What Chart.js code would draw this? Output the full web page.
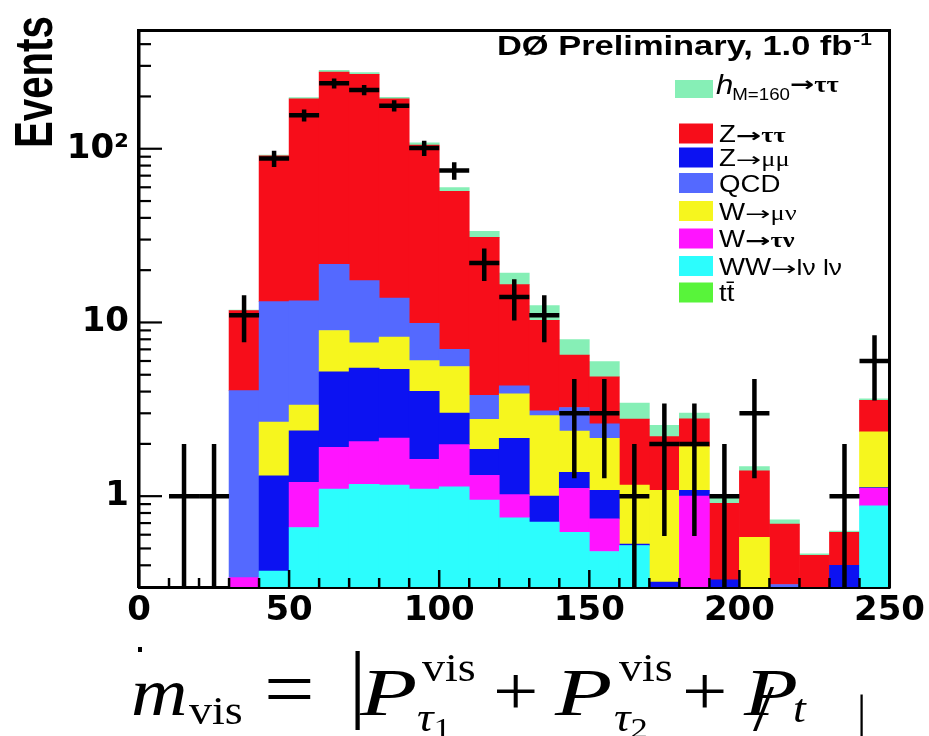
<!DOCTYPE html>
<html>
<head>
<meta charset="utf-8">
<script src="https://cdn.jsdelivr.net/npm/chart.js@4.4.1/dist/chart.umd.min.js"></script>
<style>html,body{margin:0;padding:0;background:#fff;}canvas{display:block;}</style>
</head>
<body>
<canvas id="c" width="929" height="736"></canvas>
<script>
// ---- data (bins of 10 in m_vis, 0..250) ----
const binCenters = [5,15,25,35,45,55,65,75,85,95,105,115,125,135,145,155,165,175,185,195,205,215,225,235,245];
const wwLnuLnu = [0,0,0,0,0.37,0.66,1.10,1.17,1.16,1.10,1.13,0.95,0.75,0.71,0.62,0.48,0.52,0,0,0,0,0,0,0,0.88];
const wTauNu   = [0,0,0,0.34,0,0.54,0.81,0.89,1.00,0.53,0.85,0.37,0.27,0,0.49,0.26,0,0,1.00,0,0,0,0,0,0.23];
const zMuMu    = [0,0,0,0,0.94,1.18,3.28,3.40,3.21,2.38,1.03,0.54,1.13,0.29,0.26,0.34,0.01,0.32,0.08,0.33,0,0,0,0.40,0.01];
const wMuNu    = [0,0,0,0,1.36,0.96,3.80,2.17,2.87,2.02,2.57,0.91,1.73,1.91,1.00,1.07,0.63,0.76,0.85,0,0.58,0,0,0,1.23];
const qcd      = [0,0,0,3.71,10.5,9.96,12.6,9.77,5.56,3.87,1.42,1.04,0.44,0.19,0.87,0.46,0,0,0,0,0,0.31,0,0,0];
const zTauTau  = [0,0,0,7.65,77.8,180.7,254.4,250.6,180.2,95.1,49.8,27.1,12.2,7.2,3.24,2.25,1.62,1.12,0.86,0.58,0.82,0.38,0.456,0.22,1.21];
const higgsM160= [0,0,0,0.1,1,3,7,6,4,3,3,2.6,2.7,2.2,1.48,1.10,0.66,0.36,0.22,0.09,0.08,0.04,0.01,0.01,0.07];
const ttbar    = [0,0,0,0,0,0,0,0,0,0,0,0,0,0,0,0,0,0,0,0,0,0,0,0,0];
const dataCounts = [0,1,1,11,88,156,238,218,177,101,75,22,14,11,3,3,1,2,2,1,3,0,0,1,6];
const dataErrors = [0,1,1,3.32,9.38,12.49,15.43,14.76,13.30,10.05,8.66,4.69,3.74,3.32,1.73,1.73,1,1.41,1.41,1,1.73,0,0,1,2.45];

const xTickValues = [0,50,100,150,200,250];
const xTickLabels = ['0','50','100','150','200','250'];
const xMinorTicks = [10,20,30,40,60,70,80,90,110,120,130,140,160,170,180,190,210,220,230,240];
const yTickValues = [1,10,100];
const yTickLabels = ['1','10','10\u00B2'];
const yMinorTicks = [0.4,0.5,0.6,0.7,0.8,0.9,2,3,4,5,6,7,8,9,20,30,40,50,60,70,80,90,200,300,400];

const colWW='#2cfdfd', colWtau='#ff14ff', colZmu='#0c12f2', colWmu='#f6f61e', colQCD='#5469ff', colZtau='#f70d1a', colH='#86efb6', colTT='#58f43a';

const toXY = arr => arr.map((v,i) => ({x: binCenters[i], y: v > 0 ? v : null}));
const barDs = (label, arr, color) => ({type:'bar', label, data: toXY(arr), backgroundColor: color, borderWidth: 0, stack: 'mc', barPercentage: 1, categoryPercentage: 1, order: 0});

// ---- helpers ----
function txt(ctx, s, x, y, font, sx, align) {
  ctx.save(); ctx.translate(x, y); ctx.scale(sx || 1, 1);
  ctx.font = font; ctx.textAlign = align || 'left'; ctx.textBaseline = 'alphabetic'; ctx.fillStyle = '#000';
  ctx.fillText(s, 0, 0);
  const w = ctx.measureText(s).width * (sx || 1);
  ctx.restore(); return w;
}

const innerTicks = {
  id: 'innerTicks',
  afterDatasetsDraw(chart) {
    const {ctx, chartArea: a, scales: {x, y}} = chart;
    ctx.save(); ctx.strokeStyle = '#000'; ctx.lineWidth = 2.2;
    const seg = (x1, y1, x2, y2) => { ctx.beginPath(); ctx.moveTo(x1, y1); ctx.lineTo(x2, y2); ctx.stroke(); };
    yTickValues.forEach(v => { const p = y.getPixelForValue(v); seg(a.left, p, a.left + 23, p); });
    yMinorTicks.forEach(v => { const p = y.getPixelForValue(v); seg(a.left, p, a.left + 12, p); });
    ctx.lineWidth = 2.5;
    xTickValues.forEach(v => { const p = x.getPixelForValue(v); seg(p, a.bottom, p, a.bottom - 17); });
    xMinorTicks.forEach(v => { const p = x.getPixelForValue(v); seg(p, a.bottom, p, a.bottom - 9); });
    ctx.restore();
  }
};

const errorBars = {
  id: 'errorBars',
  afterDatasetsDraw(chart) {
    const {ctx, chartArea: a, scales: {x, y}} = chart;
    ctx.save();
    ctx.beginPath(); ctx.rect(a.left, a.top, a.right - a.left, a.bottom - a.top); ctx.clip();
    ctx.strokeStyle = '#000'; ctx.lineWidth = 4.5;
    dataCounts.forEach((n, i) => {
      if (!(n > 0)) return;
      const px = x.getPixelForValue(binCenters[i]);
      const hi = y.getPixelForValue(n + dataErrors[i]);
      const lo = (n - dataErrors[i]) > 0.3 ? y.getPixelForValue(n - dataErrors[i]) : a.bottom + 5;
      ctx.beginPath(); ctx.moveTo(px, hi); ctx.lineTo(px, lo); ctx.stroke();
    });
    ctx.restore();
  }
};

const decorations = {
  id: 'decorations',
  afterDraw(chart) {
    const {ctx, chartArea: a} = chart;
    ctx.save();
    // frame top & right
    ctx.strokeStyle = '#000'; ctx.lineWidth = 3;
    ctx.beginPath(); ctx.moveTo(a.left - 1.5, a.top); ctx.lineTo(a.right, a.top); ctx.lineTo(a.right, a.bottom + 1.5); ctx.stroke();
    ctx.restore();

    // Y title
    ctx.save();
    ctx.translate(52, 148); ctx.rotate(-Math.PI / 2); ctx.scale(0.98, 1.3);
    ctx.font = 'bold 41px "Liberation Sans"'; ctx.fillStyle = '#000'; ctx.textBaseline = 'alphabetic';
    ctx.fillText('Events', 0, 0);
    ctx.restore();

    // title
    const tw = txt(ctx, 'D\u00D8 Preliminary, 1.0 fb', 497, 55, 'bold 28px "Liberation Sans"', 1.23);
    txt(ctx, '-1', 497 + tw + 1, 45, 'bold 17px "Liberation Sans"', 1.23);

    // legend
    const sans = '23px "Liberation Sans"';
    const sx = 1.2;
    ctx.fillStyle = colH; ctx.fillRect(675, 80, 38, 18);
    let xx = 716;
    xx += txt(ctx, 'h', xx, 94, 'italic 27px "Liberation Sans"', 1.15);
    xx += txt(ctx, 'M=160', xx - 1, 100, '17px "Liberation Sans"', 1.1);
    xx += txt(ctx, '\u2192', xx - 1, 91, 'bold 20px "DejaVu Sans"', 1.45);
    txt(ctx, '\u03C4\u03C4', xx - 1, 92, 'bold 23px "Liberation Serif"', 1.15);

    const arrowB = 'bold 19px "DejaVu Sans"', arrowN = '19px "DejaVu Sans"';
    const rows = [
      {c: colZtau, y: 133.5, parts: [['Z', sans, sx], ['\u2192', arrowB, 1.6], ['\u03C4\u03C4', 'bold 22px "Liberation Serif"', 1.2]]},
      {c: colZmu,  y: 157.5, parts: [['Z', sans, sx], ['\u2192', arrowN, 1.6], ['\u03BC\u03BC', '22px "Liberation Serif"', 1.2]]},
      {c: colQCD,  y: 183,   parts: [['QCD', sans, sx]]},
      {c: colWmu,  y: 211,   parts: [['W', sans, sx], ['\u2192', arrowN, 1.6], ['\u03BC\u03BD', '22px "Liberation Serif"', 1.2]]},
      {c: colWtau, y: 238.5, parts: [['W', sans, sx], ['\u2192', arrowB, 1.6], ['\u03C4\u03BD', 'bold 22px "Liberation Serif"', 1.2]]},
      {c: colWW,   y: 266,   parts: [['WW', sans, sx], ['\u2192', arrowN, 1.6], ['l\u03BD l\u03BD', '22px "Liberation Sans"', 1.2]]},
      {c: colTT,   y: 292.5, parts: [['tt\u0304', sans, sx]]}
    ];
    rows.forEach(r => {
      ctx.fillStyle = r.c; ctx.fillRect(679, r.y - 10, 34, 20);
      let x0 = 719;
      r.parts.forEach(p => { x0 += txt(ctx, p[0], x0, r.y + 8.5, p[1], p[2]); });
    });

    // formula
    const F = '"Liberation Serif"';
    const fs = 1.15;
    txt(ctx, 'm', 131, 715, 'italic 68px ' + F, fs);
    txt(ctx, 'vis', 189, 724, '40px ' + F, fs);
    txt(ctx, '=', 264, 715, '78px ' + F, fs);
    txt(ctx, '|', 349, 711, '86px ' + F, 1);
    txt(ctx, 'P', 360, 715, 'italic 68px ' + F, 1.38);
    txt(ctx, 'vis', 422, 681, '40px ' + F, fs);
    let tx = 417 + txt(ctx, '\u03C4', 417, 731, 'italic 40px ' + F, fs);
    txt(ctx, '1', tx, 738, '30px ' + F, fs);
    txt(ctx, '+', 493, 715, '70px ' + F, fs);
    txt(ctx, 'P', 555, 715, 'italic 68px ' + F, 1.38);
    txt(ctx, 'vis', 619, 681, '40px ' + F, fs);
    tx = 614 + txt(ctx, '\u03C4', 614, 731, 'italic 40px ' + F, fs);
    txt(ctx, '2', tx, 738, '30px ' + F, fs);
    txt(ctx, '+', 682, 715, '70px ' + F, fs);
    txt(ctx, 'P', 744, 715, 'italic 68px ' + F, 1.3);
    txt(ctx, '/', 753, 730, '66px ' + F, fs);
    txt(ctx, 't', 793, 722, 'italic 40px ' + F, fs);
    txt(ctx, '|', 857, 727, '46px ' + F, 1);

    // small mark under the axis
    ctx.fillStyle = '#000'; ctx.fillRect(138, 647, 4, 5);
  }
};

new Chart(document.getElementById('c'), {
  type: 'bar',
  data: {
    datasets: [
      {type: 'scatter', label: 'Data', data: toXY(dataCounts), order: -1, stack: 'data',
       pointStyle: 'line', pointBorderColor: '#000', pointBackgroundColor: '#000', pointBorderWidth: 4.5,
       pointRadius: c => { const s = c.chart.scales.x; return (s.getPixelForValue(10) - s.getPixelForValue(0)) / 2; },
       pointHoverRadius: 15, showLine: false},
      barDs('WW\u2192l\u03BD l\u03BD', wwLnuLnu, colWW),
      barDs('W\u2192\u03C4\u03BD', wTauNu, colWtau),
      barDs('Z\u2192\u03BC\u03BC', zMuMu, colZmu),
      barDs('W\u2192\u03BC\u03BD', wMuNu, colWmu),
      barDs('QCD', qcd, colQCD),
      barDs('Z\u2192\u03C4\u03C4', zTauTau, colZtau),
      barDs('h(M=160)\u2192\u03C4\u03C4', higgsM160, colH),
      barDs('tt\u0304', ttbar, colTT)
    ]
  },
  options: {
    responsive: false, animation: false, devicePixelRatio: 1,
    layout: {padding: {left: 0, right: 39, top: 13, bottom: 0}},
    plugins: {legend: {display: false}, tooltip: {enabled: false}, title: {display: false}},
    scales: {
      x: {type: 'linear', min: 0, max: 250, offset: false, stacked: true, position: 'bottom', z: 1,
          grid: {display: false, drawTicks: false}, border: {display: true, color: '#000', width: 3},
          ticks: {stepSize: 50, autoSkip: false, maxRotation: 0, padding: 4, color: '#000',
                  font: {family: "'DejaVu Sans'", weight: 'bold', size: 34},
                  callback: v => { const k = xTickValues.indexOf(v); return k >= 0 ? xTickLabels[k] : null; }},
          afterFit: s => { s.height = 149; }},
      y: {type: 'logarithmic', min: 0.3, max: 480, stacked: true, position: 'left', z: 1,
          grid: {display: false, drawTicks: false}, border: {display: true, color: '#000', width: 3.5},
          ticks: {autoSkip: false, padding: 10, color: '#000',
                  font: {family: "'DejaVu Sans'", weight: 'bold', size: 34},
                  callback: v => { const k = yTickValues.findIndex(t => Math.abs(t - v) < 1e-6 * t); return k >= 0 ? yTickLabels[k] : null; }},
          afterFit: s => { s.width = 139; }}
    }
  },
  plugins: [innerTicks, errorBars, decorations]
});
</script>
</body>
</html>
